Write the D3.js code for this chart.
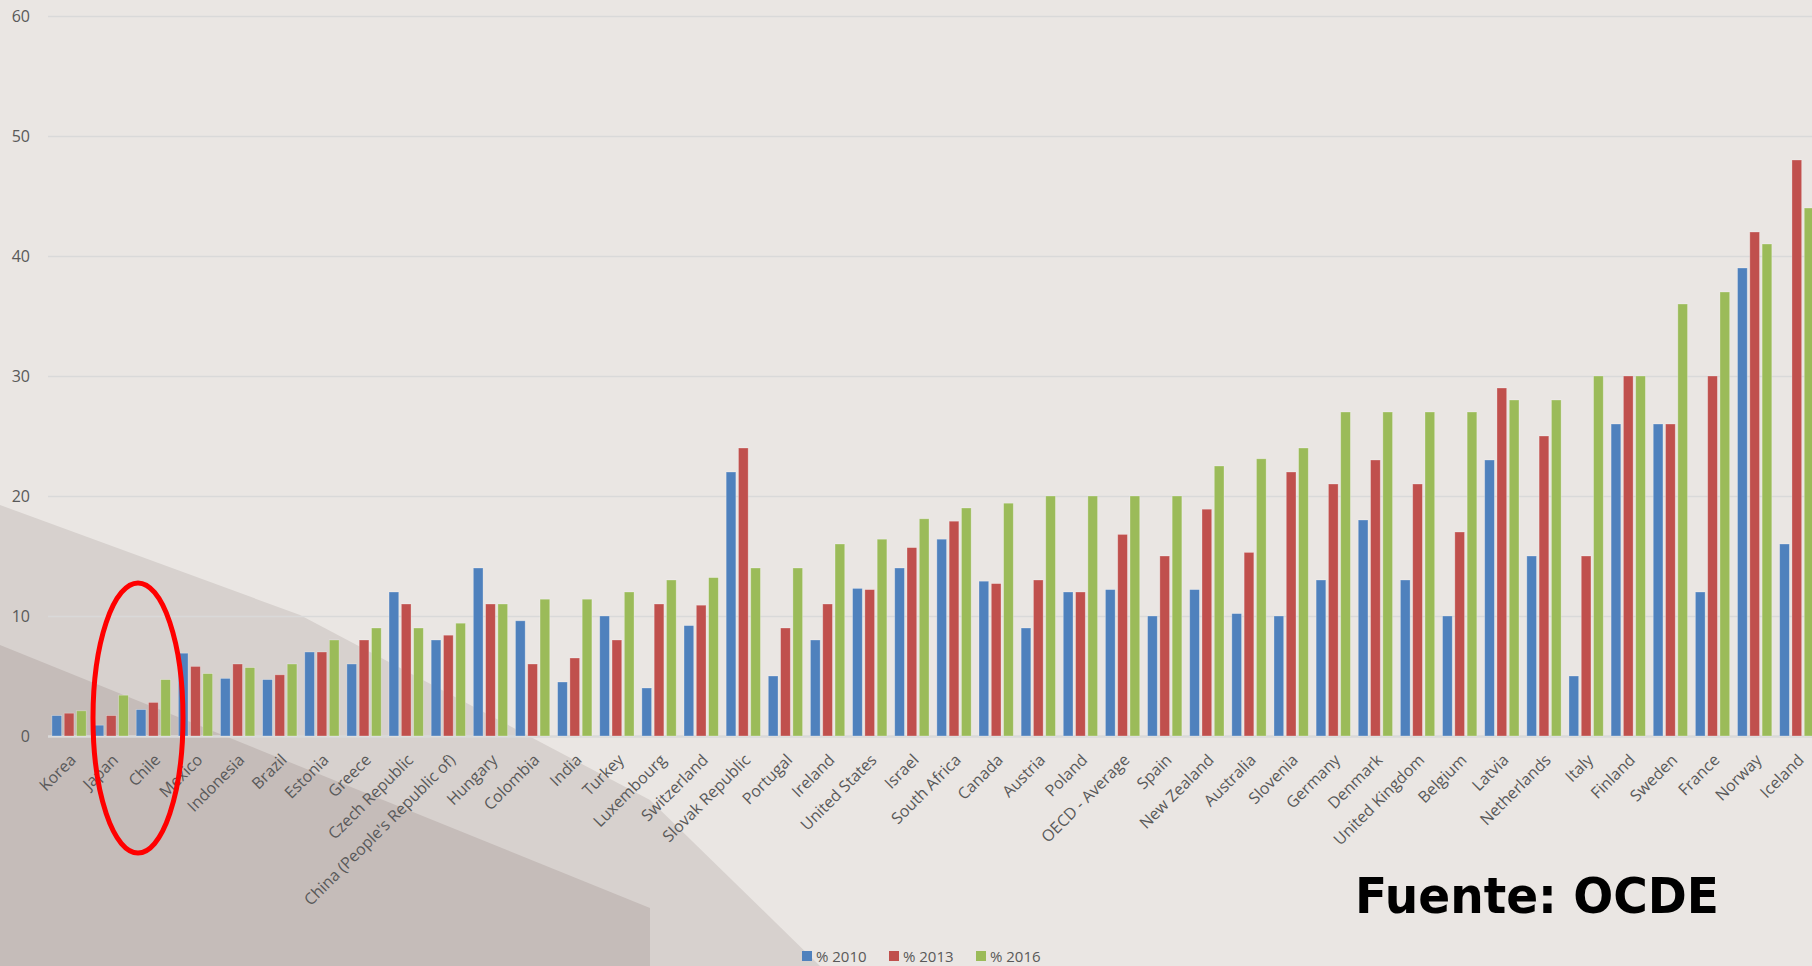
<!DOCTYPE html>
<html>
<head>
<meta charset="utf-8">
<script src="https://cdnjs.cloudflare.com/ajax/libs/d3/7.8.5/d3.min.js"></script>
<style>
body { margin: 0; background: #eae6e3; overflow: hidden; }
text { font-family: "Open Sans", sans-serif; fill: #595959; }
</style>
</head>
<body>
<script>
var countries = ["Korea", "Japan", "Chile", "Mexico", "Indonesia", "Brazil", "Estonia", "Greece",
  "Czech Republic", "China (People's Republic of)", "Hungary", "Colombia", "India", "Turkey",
  "Luxembourg", "Switzerland", "Slovak Republic", "Portugal", "Ireland", "United States", "Israel",
  "South Africa", "Canada", "Austria", "Poland", "OECD - Average", "Spain", "New Zealand",
  "Australia", "Slovenia", "Germany", "Denmark", "United Kingdom", "Belgium", "Latvia",
  "Netherlands", "Italy", "Finland", "Sweden", "France", "Norway", "Iceland"];

var series = ["% 2010", "% 2013", "% 2016"];

var v2010 = [1.7, 0.9, 2.2, 6.9, 4.8, 4.7, 7, 6, 12, 8, 14, 9.6, 4.5, 10, 4, 9.2, 22, 5, 8, 12.3, 14,
  16.4, 12.9, 9, 12, 12.2, 10, 12.2, 10.2, 10, 13, 18, 13, 10, 23, 15, 5, 26, 26, 12, 39, 16];
var v2013 = [1.9, 1.7, 2.8, 5.8, 6, 5.1, 7, 8, 11, 8.4, 11, 6, 6.5, 8, 11, 10.9, 24, 9, 11, 12.2, 15.7,
  17.9, 12.7, 13, 12, 16.8, 15, 18.9, 15.3, 22, 21, 23, 21, 17, 29, 25, 15, 30, 26, 30, 42, 48];
var v2016 = [2.1, 3.4, 4.7, 5.2, 5.7, 6, 8, 9, 9, 9.4, 11, 11.4, 11.4, 12, 13, 13.2, 14, 14, 16, 16.4,
  18.1, 19, 19.4, 20, 20, 20, 20, 22.5, 23.1, 24, 27, 27, 27, 27, 28, 28, 30, 30, 36, 37, 41, 44];

var yTicks = [0, 10, 20, 30, 40, 50, 60];
var colors = ["#4f81bd", "#c0504d", "#9bbb59"];

var width = 1812, height = 966;
var margin = {top: 16, left: 48, bottom: 230};
var step = 42.14;

var svg = d3.select("body").append("svg")
    .attr("width", width)
    .attr("height", height);

// shaded photo background in the lower left
svg.append("path")
    .attr("d", "M0,505 L300,615 L650,800 L820,966 L0,966Z")
    .attr("fill", "#d7d1ce");
svg.append("path")
    .attr("d", "M0,645 L650,908 L650,966 L0,966Z")
    .attr("fill", "#c5bcb9");

var x0 = d3.scaleBand().domain(countries)
    .range([margin.left, margin.left + countries.length * step])
    .paddingInner(0.186).paddingOuter(0.093);

var x1 = d3.scaleBand().domain(series)
    .range([0, x0.bandwidth()])
    .paddingInner(0.21);

var y = d3.scaleLinear().domain([0, 60]).range([height - margin.bottom, margin.top]);

// grid
svg.append("g")
    .attr("transform", "translate(" + margin.left + ",0)")
    .call(d3.axisLeft(y).tickValues(yTicks).tickSize(-(width - margin.left)).tickFormat(""))
    .call(function(g) { g.select(".domain").remove(); })
    .selectAll("line")
    .attr("stroke", "#d9d9d9")
    .attr("stroke-width", function(d) { return d == 0 ? 2.5 : 1.5; });

// y labels
svg.append("g")
    .attr("transform", "translate(" + margin.left + ",0)")
    .call(d3.axisLeft(y).tickValues(yTicks).tickSize(0).tickPadding(18))
    .call(function(g) { g.select(".domain").remove(); })
    .selectAll("text")
    .style("font-size", "16px")
    .style("font-family", "'Open Sans', sans-serif")
    .attr("fill", "#595959");

// x labels
svg.append("g")
    .attr("transform", "translate(0," + y(0) + ")")
    .call(d3.axisBottom(x0).tickSize(0))
    .call(function(g) { g.select(".domain").remove(); })
    .selectAll("text")
    .style("font-size", "16px")
    .style("font-family", "'Open Sans', sans-serif")
    .attr("fill", "#595959")
    .style("text-anchor", "end")
    .attr("x", 0).attr("y", 0).attr("dy", 0)
    .attr("transform", "translate(8,25) rotate(-45)");

var rows = countries.map(function(c, i) {
  return {country: c, values: [v2010[i], v2013[i], v2016[i]]};
});

var groups = svg.selectAll(".grp")
    .data(rows)
    .enter().append("g")
    .attr("class", "grp")
    .attr("transform", function(d) { return "translate(" + x0(d.country) + ",0)"; });

groups.selectAll("rect")
    .data(function(d) { return d.values.map(function(v, k) { return {s: series[k], v: v, k: k}; }); })
    .enter().append("rect")
    .attr("x", function(d) { return x1(d.s); })
    .attr("width", x1.bandwidth())
    .attr("y", function(d) { return y(d.v); })
    .attr("height", function(d) { return y(0) - y(d.v); })
    .attr("fill", function(d) { return colors[d.k]; })
    .attr("stroke", "rgba(255,255,255,0.35)")
    .attr("stroke-width", 0.8);

// red ellipse around Chile
svg.append("ellipse")
    .attr("cx", 138).attr("cy", 718)
    .attr("rx", 45).attr("ry", 135)
    .attr("fill", "none")
    .attr("stroke", "#ff0000")
    .attr("stroke-width", 5);

// legend
var legend = svg.selectAll(".leg")
    .data(series)
    .enter().append("g")
    .attr("class", "leg")
    .attr("transform", function(d, i) { return "translate(" + (802 + i * 87) + ",951)"; });

legend.append("rect")
    .attr("width", 10).attr("height", 10)
    .attr("fill", function(d, i) { return colors[i]; });

legend.append("text")
    .attr("x", 14).attr("y", 11)
    .style("font-size", "15px")
    .text(function(d) { return d; });

svg.append("text")
    .attr("x", 1355).attr("y", 913)
    .attr("textLength", 364)
    .attr("lengthAdjust", "spacingAndGlyphs")
    .style("font-family", "'DejaVu Sans', sans-serif")
    .style("font-weight", "bold")
    .style("font-size", "50px")
    .style("fill", "#000")
    .text("Fuente: OCDE");
</script>
</body>
</html>
